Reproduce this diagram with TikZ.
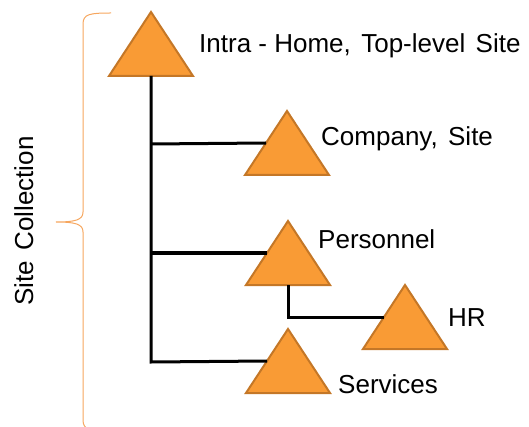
\documentclass[tikz,border=0pt]{standalone}
\usepackage{fontspec}
\setmainfont{Liberation Sans}
\definecolor{trifill}{HTML}{F99B35}
\definecolor{tridraw}{HTML}{C47727}
\definecolor{bracecol}{HTML}{F6A65E}
\newcommand{\wsp}{\hspace{0.4em}}
\begin{document}
\begin{tikzpicture}[x=1pt,y=1pt,
  tri/.pic={
    \coordinate (-apex) at (0,0);
    \coordinate (-base) at (0,-64);
    \coordinate (-lmid) at (-21,-32);
    \draw[tridraw,fill=trifill,line width=2pt,line join=miter] (0,0) -- (-42,-64) -- (42,-64) -- cycle;
  },
  lbl/.style={anchor=base west,inner sep=0pt,font=\fontsize{26}{31}\selectfont},
  conn/.style={line width=3pt,black}]
\useasboundingbox (0,0) rectangle (529,-427);
% brace
\draw[bracecol,line width=1pt]
  (111,-13) .. controls (90,-13) and (83,-14) .. (83,-24)
  -- (83,-212) .. controls (83,-220) and (75,-222) .. (56,-222)
  .. controls (75,-222) and (83,-224) .. (83,-232)
  -- (83,-420) .. controls (83,-430) and (90,-431) .. (111,-431);
\node[lbl,rotate=90,anchor=base] (sc) at (33,-221) {Site\wsp Collection};
% triangles
\pic (top) at (151,-12) {tri};
\pic (comp) at (287,-111) {tri};
\pic (pers) at (288,-221) {tri};
\pic (hr) at (405,-285) {tri};
\pic (serv) at (288,-329) {tri};
% connectors
\coordinate (j1) at (151,-144);
\coordinate (j2) at (151,-253);
\coordinate (j3) at (151,-362);
\draw[conn] (top-base) -- (j3) -- (serv-lmid);
\draw[conn] (j1) -- (comp-lmid);
\draw[conn] (j2) -- (pers-lmid);
\draw[conn] (pers-base) |- (hr-lmid);
% labels
\node[lbl] (ltop) at (199,-53) {Intra - Home,\wsp Top-level\wsp Site};
\node[lbl] (lcomp) at (321,-146) {Company,\wsp Site};
\node[lbl] (lpers) at (318,-248) {Personnel};
\node[lbl] (lhr) at (448,-326) {HR};
\node[lbl] (lserv) at (338,-393) {Services};
\end{tikzpicture}
\end{document}
